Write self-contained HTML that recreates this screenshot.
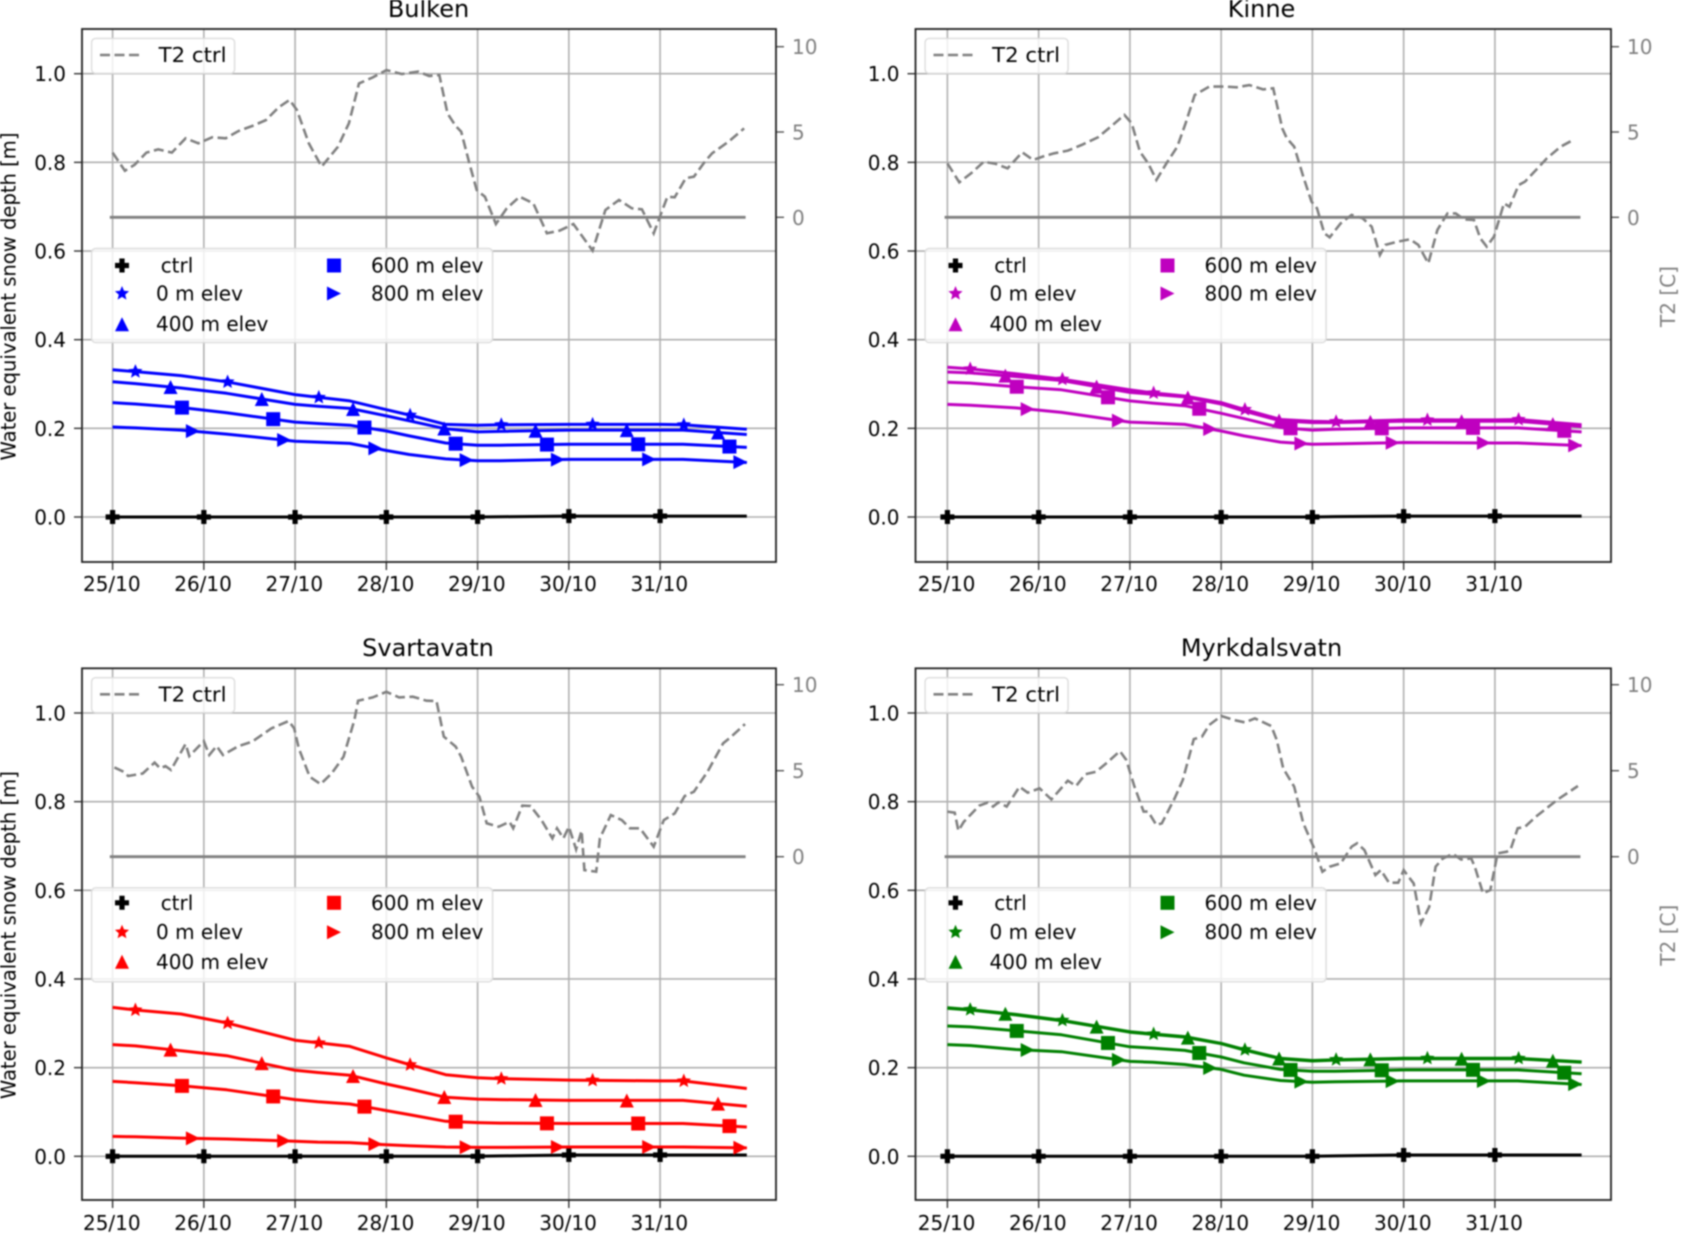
<!DOCTYPE html>
<html lang="en">
<head>
<meta charset="utf-8">
<title>Water equivalent snow depth and T2</title>
<style>
html,body{margin:0;padding:0;background:#fff;width:1681px;height:1234px;overflow:hidden}
svg{display:block;filter:blur(0.7px)}
text{font-family:"DejaVu Sans","Liberation Sans",sans-serif;font-size:20px;fill:#000}
</style>
</head>
<body>
<svg id="figure" xmlns="http://www.w3.org/2000/svg" width="1681" height="1234" viewBox="0 0 1681 1234"></svg>
<script>
// ---- shared axis data ----
const dayTicks = [0, 1, 2, 3, 4, 5, 6];
const dayLabels = ["25/10", "26/10", "27/10", "28/10", "29/10", "30/10", "31/10"];
const snowTicks = [0, 0.2, 0.4, 0.6, 0.8, 1.0];
const snowTickLabels = ["0.0", "0.2", "0.4", "0.6", "0.8", "1.0"];
const tempTicks = [0, 5, 10];
const tempTickLabels = ["0", "5", "10"];
const snowDays = [0, 0.25, 0.75, 1.25, 2, 2.25, 2.6, 3, 3.25, 3.65, 4, 4.25, 5, 6, 6.25, 6.95];
const ctrlMarkDays = [0, 1, 2, 3, 4, 5, 6];
const m0MarkDays = [0.25, 1.26, 2.26, 3.26, 4.26, 5.26, 6.26];
const m400MarkDays = [0.635, 1.635, 2.635, 3.635, 4.635, 5.635, 6.635];
const m600MarkDays = [0.76, 1.76, 2.76, 3.76, 4.76, 5.76, 6.76];
const m800MarkDays = [0.88, 1.88, 2.88, 3.88, 4.88, 5.88, 6.88];

// ---- Bulken ----
const bulkenCtrl = [0,0,0,0,0,0,0,0,0,0,0,0.0005,0.002,0.002,0.002,0.002];
const bulken0 = [0.332,0.328,0.319,0.305,0.276,0.270,0.262,0.242,0.230,0.209,0.207,0.208,0.209,0.209,0.208,0.198];
const bulken400 = [0.305,0.301,0.291,0.279,0.254,0.250,0.245,0.228,0.217,0.199,0.192,0.193,0.196,0.196,0.196,0.186];
const bulken600 = [0.258,0.255,0.247,0.235,0.214,0.211,0.207,0.194,0.183,0.167,0.162,0.162,0.164,0.164,0.164,0.157];
const bulken800 = [0.203,0.201,0.196,0.187,0.171,0.169,0.166,0.150,0.141,0.131,0.127,0.127,0.130,0.130,0.130,0.123];
const bulkenT2Days = [0,0.135,0.24,0.37,0.50,0.65,0.80,0.94,1.09,1.24,1.38,1.53,1.68,1.82,1.94,2.02,2.15,2.29,2.47,2.59,2.70,2.85,3.00,3.17,3.35,3.47,3.58,3.67,3.76,3.82,3.91,3.99,4.08,4.20,4.32,4.46,4.61,4.76,4.90,5.05,5.26,5.40,5.55,5.69,5.80,5.93,6.08,6.16,6.28,6.37,6.49,6.57,6.75,6.92];
const bulkenT2 = [3.79,2.73,3.07,3.79,3.98,3.79,4.63,4.34,4.69,4.63,5.06,5.35,5.70,6.45,6.88,6.29,4.34,2.97,4.14,5.51,7.85,8.20,8.63,8.40,8.54,8.28,8.34,6.09,5.35,5.02,3.16,1.60,1.21,-0.39,0.53,1.21,0.82,-0.94,-0.78,-0.39,-1.95,0.43,1.02,0.53,0.47,-0.94,1.21,1.17,2.29,2.38,3.26,3.75,4.43,5.21];

// ---- Kinne ----
const kinneCtrl = [0,0,0,0,0,0,0,0,0,0,0,0.001,0.002,0.002,0.002,0.002];
const kinne0 = [0.338,0.334,0.323,0.311,0.287,0.280,0.273,0.258,0.243,0.220,0.216,0.215,0.219,0.219,0.220,0.208];
const kinne400 = [0.327,0.325,0.317,0.308,0.281,0.277,0.271,0.255,0.239,0.217,0.213,0.213,0.216,0.216,0.216,0.204];
const kinne600 = [0.304,0.302,0.294,0.287,0.262,0.257,0.251,0.234,0.222,0.202,0.196,0.198,0.201,0.201,0.201,0.192];
const kinne800 = [0.254,0.252,0.246,0.236,0.214,0.212,0.209,0.194,0.183,0.169,0.164,0.165,0.168,0.167,0.167,0.161];
const kinneT2Days = [0,0.13,0.26,0.40,0.53,0.66,0.82,0.94,1.06,1.17,1.32,1.47,1.65,1.79,1.94,2.02,2.11,2.20,2.29,2.40,2.52,2.61,2.71,2.87,3.05,3.17,3.31,3.46,3.57,3.67,3.72,3.80,3.90,3.99,4.05,4.13,4.19,4.31,4.43,4.55,4.65,4.74,4.80,4.93,5.07,5.16,5.27,5.37,5.48,5.57,5.66,5.77,5.84,5.91,5.99,6.10,6.16,6.26,6.33,6.45,6.57,6.72,6.87];
const kinneT2 = [3.16,2.05,2.58,3.26,3.13,2.87,3.81,3.36,3.59,3.75,3.91,4.24,4.69,5.31,6.00,5.51,3.85,3.16,2.19,3.16,4.14,5.51,7.17,7.66,7.66,7.62,7.75,7.50,7.56,5.21,4.63,4.14,2.38,0.92,0.53,-0.94,-1.17,-0.35,0.14,-0.06,-0.55,-2.21,-1.62,-1.43,-1.29,-1.62,-2.70,-0.74,0.23,0.23,-0.12,-0.16,-1.23,-1.72,-1.13,0.82,0.62,1.89,2.09,2.77,3.46,4.14,4.57];

// ---- Svartavatn ----
const svartaCtrl = [0,0,0,0,0,0,0,0,0,0,0,0.001,0.003,0.003,0.003,0.003];
const svarta0 = [0.336,0.330,0.321,0.301,0.262,0.256,0.248,0.222,0.207,0.184,0.177,0.175,0.172,0.170,0.170,0.153];
const svarta400 = [0.252,0.249,0.238,0.227,0.194,0.189,0.183,0.163,0.152,0.133,0.129,0.128,0.126,0.126,0.126,0.113];
const svarta600 = [0.169,0.166,0.159,0.150,0.128,0.123,0.118,0.103,0.094,0.079,0.076,0.075,0.074,0.074,0.074,0.066];
const svarta800 = [0.045,0.044,0.041,0.039,0.034,0.032,0.031,0.026,0.024,0.021,0.020,0.020,0.021,0.021,0.021,0.019];
const svartaT2Days = [0.02,0.12,0.17,0.33,0.46,0.52,0.58,0.64,0.80,0.84,1.00,1.06,1.14,1.21,1.38,1.53,1.74,1.93,1.99,2.04,2.16,2.28,2.40,2.53,2.65,2.69,2.85,3.00,3.14,3.29,3.44,3.55,3.63,3.76,3.82,3.94,4.02,4.10,4.23,4.35,4.39,4.49,4.58,4.70,4.82,4.87,4.94,5.00,5.08,5.14,5.17,5.30,5.34,5.46,5.58,5.67,5.78,5.93,6.04,6.16,6.27,6.37,6.52,6.69,6.78,6.93];
const svartaT2 = [5.19,4.94,4.69,4.84,5.47,5.14,5.27,5.04,6.55,5.85,6.72,5.91,6.43,5.91,6.43,6.69,7.46,7.89,7.46,6.30,4.65,4.22,4.84,5.81,7.95,9.07,9.26,9.59,9.26,9.30,9.07,9.05,6.98,6.40,5.81,4.07,3.49,1.94,1.74,2.03,1.65,2.97,2.95,2.13,1.07,1.65,1.07,1.74,0.43,1.51,-0.78,-0.87,1.07,2.42,2.13,1.65,1.65,0.58,2.13,2.52,3.53,3.78,4.94,6.59,6.98,7.71];

// ---- Myrkdalsvatn ----
const myrkCtrl = [0,0,0,0,0,0,0,0,0,0,0,0.001,0.003,0.003,0.003,0.003];
const myrk0 = [0.335,0.331,0.320,0.307,0.281,0.276,0.270,0.255,0.241,0.221,0.216,0.218,0.221,0.221,0.221,0.213];
const myrk400 = [0.334,0.330,0.319,0.306,0.280,0.275,0.269,0.254,0.240,0.220,0.215,0.217,0.220,0.220,0.220,0.212];
const myrk600 = [0.294,0.292,0.283,0.274,0.247,0.244,0.239,0.224,0.211,0.196,0.192,0.192,0.195,0.195,0.195,0.186];
const myrk800 = [0.252,0.250,0.241,0.236,0.214,0.212,0.207,0.196,0.183,0.171,0.167,0.168,0.170,0.170,0.170,0.162];
const myrkT2Days = [0,0.08,0.12,0.18,0.35,0.44,0.50,0.56,0.65,0.79,0.88,1.01,1.14,1.32,1.41,1.51,1.63,1.76,1.89,1.96,2.05,2.15,2.20,2.29,2.35,2.49,2.58,2.70,2.79,2.87,3.00,3.14,3.26,3.37,3.55,3.61,3.68,3.80,3.90,4.02,4.11,4.19,4.31,4.43,4.49,4.57,4.69,4.75,4.84,4.94,5.00,5.04,5.11,5.19,5.28,5.35,5.43,5.54,5.63,5.74,5.78,5.87,5.95,6.03,6.13,6.17,6.25,6.33,6.45,6.69,6.91];
const myrkT2 = [2.62,2.56,1.51,2.03,2.97,3.14,2.91,3.16,2.91,4.07,3.72,3.97,3.33,4.42,4.11,4.79,4.94,5.52,6.14,5.62,4.07,2.62,2.62,1.84,1.94,3.39,4.46,6.84,6.98,7.66,8.18,7.95,7.81,8.04,7.60,6.78,5.14,4.07,1.94,0.48,-0.87,-0.58,-0.39,0.58,0.78,0.39,-1.07,-0.78,-1.51,-1.51,-0.78,-1.07,-1.55,-3.88,-2.91,-0.58,-0.10,0.16,-0.16,-0.10,-0.58,-2.13,-1.94,0.19,0.29,0.39,1.65,1.74,2.33,3.33,4.11];

// ---- panel layout (pixel geometry, kept separate from data) ----
const panels = [
  {key:"bulken", title:"Bulken", color:"#0000ff", left:82, right:776, top:29, bottom:562, x0:112.6, y0:517, t0:217.3, tScale:17.06, titleX:428.5, titleY:17, t2Label:false, yLabel:true, xLabelDy:29, rows:[17, 45, 75.7],
   ctrl:bulkenCtrl, s0:bulken0, s400:bulken400, s600:bulken600, s800:bulken800, t2Days:bulkenT2Days, t2:bulkenT2},
  {key:"kinne", title:"Kinne", color:"#bf00bf", left:915.5, right:1611, top:29, bottom:562, x0:947.4, y0:517, t0:217.3, tScale:17.06, titleX:1261.5, titleY:17, t2Label:true, yLabel:false, xLabelDy:29, rows:[17, 45, 75.7],
   ctrl:kinneCtrl, s0:kinne0, s400:kinne400, s600:kinne600, s800:kinne800, t2Days:kinneT2Days, t2:kinneT2},
  {key:"svartavatn", title:"Svartavatn", color:"#ff0000", left:82, right:776, top:668.3, bottom:1200, x0:112.6, y0:1156.3, t0:856.7, tScale:17.2, titleX:428, titleY:656, t2Label:false, yLabel:true, xLabelDy:30, rows:[15, 44.4, 74],
   ctrl:svartaCtrl, s0:svarta0, s400:svarta400, s600:svarta600, s800:svarta800, t2Days:svartaT2Days, t2:svartaT2},
  {key:"myrkdalsvatn", title:"Myrkdalsvatn", color:"#008000", left:915.5, right:1611, top:668.3, bottom:1200, x0:947.4, y0:1156.3, t0:856.7, tScale:17.2, titleX:1261.5, titleY:656, t2Label:true, yLabel:false, xLabelDy:30, rows:[15, 44.4, 74],
   ctrl:myrkCtrl, s0:myrk0, s400:myrk400, s600:myrk600, s800:myrk800, t2Days:myrkT2Days, t2:myrkT2}
];

const NS = "http://www.w3.org/2000/svg";
const figure = document.getElementById("figure");
const DAY_PX = 91.25;
const SNOW_PX = 443.3;

function make(tag, parent, attrs, content) {
  const node = document.createElementNS(NS, tag);
  for (const k in attrs) node.setAttribute(k, attrs[k]);
  if (content !== undefined) node.textContent = content;
  parent.appendChild(node);
  return node;
}
function xOf(p, d) { return p.x0 + d * DAY_PX; }
function ySnow(p, v) { return p.y0 - v * SNOW_PX; }
function yTemp(p, t) { return p.t0 - t * p.tScale; }
function interp(xs, ys, x) {
  for (let i = 1; i < xs.length; i++) {
    if (x <= xs[i]) {
      const f = (x - xs[i - 1]) / (xs[i] - xs[i - 1]);
      return ys[i - 1] + f * (ys[i] - ys[i - 1]);
    }
  }
  return ys[ys.length - 1];
}
function markerShape(kind, cx, cy, parent, color) {
  const r = 7;
  let el;
  if (kind === "square") {
    el = make("rect", parent, {x:cx - r, y:cy - r, width:2 * r, height:2 * r, fill:color});
  } else if (kind === "triangle") {
    el = make("polygon", parent, {points:`${cx},${cy - r} ${cx + r},${cy + r} ${cx - r},${cy + r}`, fill:color});
  } else if (kind === "right") {
    el = make("polygon", parent, {points:`${cx - r},${cy - r} ${cx + r},${cy} ${cx - r},${cy + r}`, fill:color});
  } else if (kind === "star") {
    const pts = [];
    for (let i = 0; i < 10; i++) {
      const rad = i % 2 ? 3.4 : 7.5;
      const a = -Math.PI / 2 + i * Math.PI / 5;
      pts.push((cx + rad * Math.cos(a)).toFixed(1) + "," + (cy + rad * Math.sin(a)).toFixed(1));
    }
    el = make("polygon", parent, {points:pts.join(" "), fill:color});
  } else {
    const a = 7, b = 2.6;
    const pts = [[-b,-a],[b,-a],[b,-b],[a,-b],[a,b],[b,b],[b,a],[-b,a],[-b,b],[-a,b],[-a,-b],[-b,-b]];
    el = make("polygon", parent, {points:pts.map(q => (cx + q[0]) + "," + (cy + q[1])).join(" "), fill:color});
  }
  return el;
}

panels.forEach(function (p) {
  const g = make("g", figure, {});
  
  

  const title = make("text", g, {x:p.titleX, y:p.titleY, "text-anchor":"middle", style:"font-size:24px"}, p.title);
  
  

  // gridlines + bottom ticks
  dayTicks.forEach(function (d, i) {
    const x = xOf(p, d);
    const gl = make("line", g, {x1:x, x2:x, y1:p.top, y2:p.bottom, stroke:"#b0b0b0", "stroke-width":1.6});
    
    
    const tk = make("line", g, {x1:x, x2:x, y1:p.bottom, y2:p.bottom + 8, stroke:"#333", "stroke-width":1.4});
    
    
    const lb = make("text", g, {x:x - 0.8, y:p.bottom + p.xLabelDy, "text-anchor":"middle"}, dayLabels[i]);
    
    
  });
  snowTicks.forEach(function (v, i) {
    const y = ySnow(p, v);
    const gl = make("line", g, {x1:p.left, x2:p.right, y1:y, y2:y, stroke:"#b0b0b0", "stroke-width":1.6});
    
    
    const tk = make("line", g, {x1:p.left - 8, x2:p.left, y1:y, y2:y, stroke:"#333", "stroke-width":1.4});
    
    
    const lb = make("text", g, {x:p.left - 16, y:y + 7.5, "text-anchor":"end"}, snowTickLabels[i]);
    
    
  });

  // y axis title (left column only)
  const yc = (p.top + p.bottom) / 2 + 1;
  if (p.yLabel) {
    const yt = make("text", g, {transform:`translate(${p.left - 66.5},${yc}) rotate(-90)`, "text-anchor":"middle", textLength:328, lengthAdjust:"spacingAndGlyphs"}, "Water equivalent snow depth [m]");
    
    
  }

  // snow series
  const defs = [
    {name:"ctrl", vals:p.ctrl, days:ctrlMarkDays, kind:"plus", color:"#000000"},
    {name:"0m", vals:p.s0, days:m0MarkDays, kind:"star", color:p.color},
    {name:"400m", vals:p.s400, days:m400MarkDays, kind:"triangle", color:p.color},
    {name:"600m", vals:p.s600, days:m600MarkDays, kind:"square", color:p.color},
    {name:"800m", vals:p.s800, days:m800MarkDays, kind:"right", color:p.color}
  ];
  defs.forEach(function (s) {
    const pts = snowDays.map((d, i) => xOf(p, d).toFixed(1) + "," + ySnow(p, s.vals[i]).toFixed(1)).join(" ");
    const line = make("polyline", g, {points:pts, fill:"none", stroke:s.color, "stroke-width":3, "stroke-linejoin":"round"});
    
    
    s.days.forEach(function (d) {
      const mark = markerShape(s.kind, xOf(p, d), ySnow(p, interp(snowDays, s.vals, d)), g, s.color);
      
      
    });
  });

  // lower legend
  const lgTop = p.top + 219.5;
  const lgLeft = p.left + 9.6;
  const lg = make("g", g, {});
  
  
  const lgBox = make("rect", lg, {x:lgLeft, y:lgTop, width:401, height:94, rx:4, fill:"rgba(255,255,255,0.8)", stroke:"#dcdcdc", "stroke-width":1.4});
  
  
  const entries = [
    {label:"ctrl", kind:"plus", col:0, row:0, color:"#000000", textDx:38.7},
    {label:"0 m elev", kind:"star", col:0, row:1, color:p.color, textDx:34},
    {label:"400 m elev", kind:"triangle", col:0, row:2, color:p.color, textDx:34},
    {label:"600 m elev", kind:"square", col:1, row:0, color:p.color, textDx:37},
    {label:"800 m elev", kind:"right", col:1, row:1, color:p.color, textDx:37}
  ];
  const colOffsets = [30.4, 242.4];
  entries.forEach(function (e) {
    const mx = lgLeft + colOffsets[e.col];
    const my = lgTop + p.rows[e.row];
    const mk = markerShape(e.kind, mx, my, lg, e.color);
    
    
    const tx = make("text", lg, {x:mx + e.textDx, y:my + 7}, e.label);
    
    
  });

  // T2 axis (twin)
  const zero = make("line", g, {x1:p.x0 - 2.8, x2:p.x0 + 633, y1:p.t0, y2:p.t0, stroke:"#808080", "stroke-width":2.8});
  
  
  const t2Pts = p.t2Days.map((d, i) => xOf(p, d).toFixed(1) + "," + yTemp(p, p.t2[i]).toFixed(1)).join(" ");
  const t2Line = make("polyline", g, {points:t2Pts, fill:"none", stroke:"#808080", "stroke-width":2.6, "stroke-dasharray":"10 4.5"});
  
  
  tempTicks.forEach(function (t, i) {
    const y = yTemp(p, t);
    const tk = make("line", g, {x1:p.right, x2:p.right + 8, y1:y, y2:y, stroke:"#555", "stroke-width":1.4});
    
    
    const lb = make("text", g, {x:p.right + 16, y:y + 7.5, style:"fill:#808080"}, tempTickLabels[i]);
    
    
  });
  if (p.t2Label) {
    const tl = make("text", g, {transform:`translate(${p.right + 64},${yc}) rotate(-90)`, "text-anchor":"middle", style:"fill:#808080"}, "T2 [C]");
    
    
  }

  // upper legend
  const ul = make("g", g, {});
  
  
  const ulBox = make("rect", ul, {x:lgLeft, y:p.top + 9.4, width:143, height:35, rx:4, fill:"rgba(255,255,255,0.8)", stroke:"#dcdcdc", "stroke-width":1.4});
  
  
  const ulLine = make("line", ul, {x1:lgLeft + 8.4, x2:lgLeft + 51.4, y1:p.top + 26, y2:p.top + 26, stroke:"#808080", "stroke-width":2.6, "stroke-dasharray":"10 4.5"});
  
  
  const ulText = make("text", ul, {x:lgLeft + 67, y:p.top + 33, textLength:68, lengthAdjust:"spacingAndGlyphs"}, "T2 ctrl");
  
  

  // spines on top
  const frame = make("rect", g, {x:p.left, y:p.top, width:p.right - p.left, height:p.bottom - p.top, fill:"none", stroke:"#222", "stroke-width":1.8});
  
  
});
</script>
</body>
</html>
